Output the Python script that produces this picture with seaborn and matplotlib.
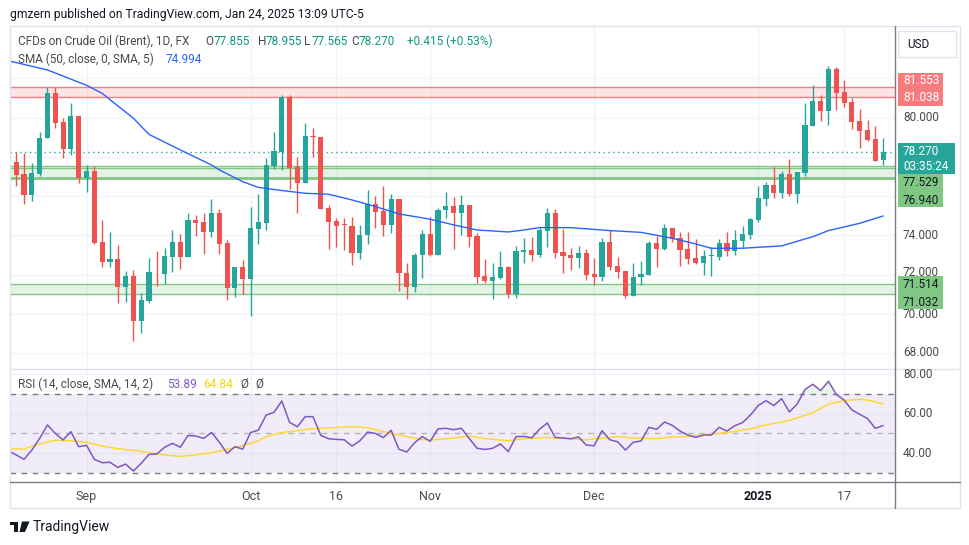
import numpy as np
import pandas as pd
import matplotlib
matplotlib.use('Agg')
import matplotlib.pyplot as plt
from matplotlib.patches import Rectangle, Polygon
import seaborn as sns

# Daily candles, Aug 19 2024 - Jan 24 2025
opens = [79.73, 77.745, 77.13, 76.06, 77.13, 78.97, 81.24, 79.78, 78.42, 80.09,
         76.95, 77.29, 73.67, 72.67, 72.81, 71.40, 71.94, 69.66, 70.68, 72.75,
         72.04, 72.92, 73.67, 72.92, 74.79, 74.69, 74.18, 75.13, 73.64, 71.33,
         72.40, 71.79, 74.33, 74.66, 77.54, 78.27, 81.04, 77.47, 76.69, 79.05,
         79.00, 75.39, 74.72, 74.54, 74.49, 73.13, 74.00, 75.61, 75.25, 74.55,
         75.84, 72.08, 71.40, 72.99, 74.08, 73.01, 75.30, 75.50, 75.17, 75.56,
         73.98, 71.94, 71.70, 71.86, 72.38, 71.01, 73.16, 73.26, 73.01, 74.23,
         75.13, 73.16, 73.01, 72.87, 73.11, 72.04, 71.91, 73.67, 72.45, 72.20,
         70.94, 71.87, 71.99, 73.62, 73.32, 74.37, 73.87, 73.31, 72.86, 72.60,
         72.95, 72.91, 73.62, 73.21, 73.72, 74.04, 74.79, 75.86, 76.57, 76.18,
         77.13, 76.12, 77.17, 79.59, 80.85, 80.36, 82.48, 81.31, 80.80, 79.83,
         79.37, 78.92, 77.855]
highs = [79.90, 78.27, 78.19, 77.68, 79.27, 81.55, 81.55, 79.97, 80.73, 80.09,
         77.57, 77.54, 74.79, 74.18, 73.52, 72.21, 72.25, 71.06, 72.84, 73.21,
         73.38, 74.28, 74.08, 75.13, 75.03, 75.13, 75.88, 75.35, 73.77, 72.42,
         72.76, 75.47, 76.11, 77.93, 79.29, 81.16, 81.16, 77.98, 79.71, 79.46,
         79.00, 75.56, 74.88, 74.88, 74.93, 74.54, 76.32, 76.01, 76.52, 76.10,
         75.84, 72.58, 73.13, 74.28, 74.93, 75.42, 76.22, 75.98, 76.06, 75.56,
         74.11, 72.79, 72.59, 73.21, 72.45, 73.47, 73.86, 73.94, 74.37, 75.39,
         75.35, 74.32, 73.35, 73.47, 73.32, 72.84, 73.86, 74.28, 72.92, 72.21,
         72.62, 72.70, 73.72, 73.98, 74.59, 74.38, 74.18, 74.18, 73.82, 73.26,
         73.40, 73.82, 74.18, 74.28, 74.50, 74.89, 76.52, 76.73, 77.51, 77.29,
         77.90, 77.25, 80.77, 81.67, 81.16, 82.63, 82.60, 81.92, 81.00, 80.44,
         79.88, 79.58, 78.955]
lows = [77.55, 76.52, 75.61, 75.76, 77.03, 78.97, 79.47, 77.97, 78.10, 76.69,
        76.23, 73.55, 72.38, 72.38, 70.58, 70.63, 68.65, 69.02, 70.58, 71.43,
        71.53, 72.16, 72.30, 72.92, 73.99, 73.06, 73.94, 73.06, 70.69, 70.89,
        71.03, 69.90, 73.57, 74.28, 77.39, 77.34, 76.39, 75.17, 76.69, 78.02,
        75.37, 73.33, 73.43, 73.26, 72.52, 72.82, 73.57, 74.40, 73.99, 74.15,
        71.19, 70.75, 71.14, 71.82, 72.96, 73.01, 74.89, 73.32, 74.03, 73.43,
        71.60, 71.57, 70.75, 71.79, 70.84, 70.84, 72.62, 72.72, 72.92, 73.43,
        72.87, 72.11, 72.25, 72.35, 71.74, 71.48, 71.70, 72.25, 71.81, 70.84,
        70.94, 71.50, 71.99, 72.42, 73.26, 73.67, 72.45, 72.55, 72.55, 71.99,
        71.94, 72.76, 72.96, 73.01, 73.35, 73.84, 74.71, 75.52, 75.93, 75.93,
        76.03, 75.67, 77.05, 79.59, 79.85, 79.63, 80.39, 80.56, 79.44, 78.48,
        78.81, 77.81, 77.565]
closes = [77.74, 77.08, 76.06, 77.17, 78.98, 81.24, 79.75, 78.42, 80.09, 76.95,
          77.29, 73.64, 72.67, 72.81, 71.40, 71.94, 69.66, 70.72, 72.15, 72.73,
          72.96, 73.67, 72.92, 74.79, 74.66, 74.18, 75.13, 73.57, 71.33, 72.40,
          71.79, 74.38, 74.69, 77.57, 78.32, 81.04, 77.46, 76.69, 79.07, 79.03,
          75.37, 74.71, 74.50, 74.52, 73.13, 74.03, 75.61, 75.22, 74.55, 75.84,
          72.08, 71.40, 72.99, 74.08, 73.01, 75.30, 75.50, 75.17, 75.56, 73.94,
          71.91, 71.70, 71.89, 72.40, 71.01, 73.21, 73.26, 73.01, 74.28, 75.13,
          73.13, 72.98, 72.86, 73.11, 71.99, 71.91, 73.67, 72.42, 72.16, 70.94,
          71.87, 72.06, 73.64, 73.32, 74.38, 73.82, 73.26, 72.81, 72.60, 72.96,
          72.96, 73.62, 73.21, 73.77, 74.08, 74.84, 75.91, 76.57, 76.18, 77.13,
          76.12, 77.24, 79.63, 80.85, 80.36, 82.48, 81.27, 80.77, 79.80, 79.34,
          78.86, 77.81, 78.27]

# RSI(14) per bar
rsi = [41.0, 39.0, 36.8, 41.5, 47.4, 54.2, 49.9, 46.6, 50.8, 43.2,
       43.9, 36.8, 35.1, 35.3, 32.7, 34.4, 30.9, 34.8, 39.3, 39.5,
       42.9, 44.9, 42.9, 48.9, 48.6, 47.4, 50.4, 45.5, 39.8, 43.2,
       42.0, 50.3, 51.6, 59.2, 60.6, 66.3, 55.5, 53.3, 58.4, 58.4,
       48.9, 47.2, 46.9, 46.7, 43.5, 46.2, 50.6, 49.9, 47.8, 51.5,
       41.9, 40.5, 45.2, 48.3, 45.9, 52.2, 52.5, 51.8, 52.5, 47.4,
       42.4, 41.8, 42.4, 44.6, 40.7, 48.3, 48.4, 47.7, 52.0, 55.2,
       47.9, 47.6, 47.2, 48.1, 44.0, 43.7, 51.3, 46.7, 45.7, 41.5,
       45.4, 46.1, 53.0, 52.0, 55.7, 54.0, 51.1, 49.1, 47.9, 49.1,
       49.1, 53.0, 51.1, 53.8, 55.4, 59.2, 64.0, 66.5, 64.0, 67.5,
       60.8, 64.8, 72.2, 74.8, 71.6, 76.3, 69.7, 66.8, 61.8, 59.6,
       57.4, 52.5, 53.89]

# SMA 50 of close, sampled along the line (bar index, value)
sma_pos = [0, 5, 10, 12, 16, 18, 22, 26, 27, 30, 32, 35, 38, 41, 44, 47, 50, 54,
           57, 60, 64, 66, 68, 72, 77, 81, 85, 88, 90, 94, 99, 103, 105, 109, 112]
sma_vals = [82.90, 82.43, 81.65, 81.24, 79.97, 79.15, 78.36, 77.59, 77.34, 76.74,
            76.45, 76.29, 76.15, 76.10, 75.81, 75.47, 75.10, 74.83, 74.54, 74.28,
            74.18, 74.28, 74.40, 74.40, 74.25, 74.16, 73.86, 73.57, 73.35, 73.35,
            73.47, 73.94, 74.25, 74.62, 74.994]

# SMA 14 of RSI, sampled along the line
rsi_ma_pos = [0, 2, 3, 5, 6, 8, 10, 12, 14, 16, 18, 20, 22, 24, 26, 28, 30, 32, 33,
              35, 37, 39, 41, 43, 44, 46, 48, 51, 53, 54, 57, 59, 61, 64, 66, 69, 71,
              74, 77, 78, 80, 83, 85, 87, 89, 92, 95, 97, 100, 103, 105, 107, 109,
              110, 112]
rsi_ma_vals = [42.2, 41.9, 43.5, 45.6, 46.4, 46.2, 45.4, 43.5, 42.2, 41.4, 40.2, 39.0,
               38.3, 39.0, 40.2, 41.9, 43.8, 46.1, 48.3, 50.3, 51.3, 52.3, 52.7, 53.2,
               53.3, 52.8, 50.8, 48.3, 46.8, 46.6, 47.5, 48.6, 47.3, 46.2, 47.3, 47.8,
               47.4, 46.7, 47.8, 48.3, 47.6, 47.3, 48.1, 48.4, 49.3, 50.3, 52.2, 54.2,
               56.5, 60.4, 64.8, 66.5, 67.2, 66.8, 64.84]

zone_red = (81.038, 81.553)
zone_green_hi = (76.940, 77.529)
zone_green_lo = (71.032, 71.514)
last_price = 78.270

tick_dates = ['2024-09-02', '2024-10-01', '2024-10-16', '2024-11-01',
              '2024-12-02', '2025-01-02', '2025-01-17']
tick_labels = ['Sep', 'Oct', '16', 'Nov', 'Dec', '2025', '17']

dates = pd.bdate_range('2024-08-19', '2025-01-24').drop(
    pd.to_datetime(['2024-12-25', '2025-01-01']))
df = pd.DataFrame({'date': dates, 'open': opens, 'high': highs,
                   'low': lows, 'close': closes, 'rsi': rsi})
df['pos'] = np.arange(len(df))
tick_pos = [df.index[df['date'] == pd.Timestamp(d)][0] for d in tick_dates]

UP, DOWN = '#26a69a', '#ef5350'
GRID = '#f0f3fa'
TXT = '#4a4a4a'

sns.set_theme(style='white')
plt.rcParams['font.family'] = ['Roboto', 'DejaVu Sans']

W, H = 970, 545
fig = plt.figure(figsize=(W / 100, H / 100), dpi=100)


def fx(x):
    return x / W


def fy(y):
    return 1 - y / H


ax = fig.add_axes([fx(10), fy(369), fx(895) - fx(10), fy(26) - fy(369)])
ax2 = fig.add_axes([fx(10), fy(482), fx(895) - fx(10), fy(369) - fy(482)], sharex=ax)

# --- price pane ---
for lvl in range(68, 84, 2):
    ax.axhline(lvl, color=GRID, lw=1, zorder=0)
for p in tick_pos:
    ax.axvline(p, color=GRID, lw=1, zorder=0)
    ax2.axvline(p, color=GRID, lw=1, zorder=0)

ax.axhspan(*zone_red, color='#f77c80', alpha=0.2, lw=0, zorder=1)
for v in zone_red:
    ax.axhline(v, color='#f77c80', lw=1.0, zorder=1)
ax.axhspan(*zone_green_hi, color='#81c784', alpha=0.2, lw=0, zorder=1)
ax.axhline(zone_green_hi[1], color='#81c784', lw=1.0, zorder=1)
ax.axhline(77.42, color='#81c784', lw=1.0, zorder=1)
ax.axhline(zone_green_hi[0], color='#81c784', lw=2.0, zorder=1)
ax.axhspan(*zone_green_lo, color='#81c784', alpha=0.2, lw=0, zorder=1)
for v in zone_green_lo:
    ax.axhline(v, color='#81c784', lw=1.0, zorder=1)

ax.axhline(last_price, color=UP, lw=1, ls=(0, (1, 2.5)), zorder=1.5)

colors = np.where(df['close'] >= df['open'], UP, DOWN)
ax.vlines(df['pos'], df['low'], df['high'], colors=colors, lw=1, zorder=2)
body = np.maximum((df['close'] - df['open']).abs(), 0.04)
ax.bar(df['pos'], body, bottom=np.minimum(df['open'], df['close']),
       width=0.66, color=colors, lw=0, zorder=3)

sns.lineplot(x=sma_pos, y=sma_vals, ax=ax, color='#2962ff', lw=1, zorder=4)

ax.set_xlim(0.20, 113.52)
ax.set_ylim(67.20, 84.67)

# --- RSI pane ---
for lvl in (40, 60, 80):
    ax2.axhline(lvl, color=GRID, lw=1, zorder=0)
ax2.axhspan(30, 70, color='#7e57c2', alpha=0.1, lw=0, zorder=0.5)
ax2.axhline(70, color='#787b86', lw=1, ls=(0, (4, 4)), zorder=1)
ax2.axhline(30, color='#787b86', lw=1, ls=(0, (4, 4)), zorder=1)
ax2.axhline(50, color='#787b86', lw=1, ls=(0, (4, 4)), alpha=0.5, zorder=1)
r = df['rsi'].to_numpy()
ax2.fill_between(df['pos'], r, 70, where=r > 70, interpolate=True,
                 color='#4caf50', alpha=0.12, lw=0)
sns.lineplot(x=rsi_ma_pos, y=rsi_ma_vals, ax=ax2, color='#fdd835', lw=1.1, zorder=3)
sns.lineplot(data=df, x='pos', y='rsi', ax=ax2, color='#7e57c2', lw=1.1, zorder=4)
ax2.set_ylim(25.32, 82.53)
ax2.set_xlim(0.20, 113.52)

for a in (ax, ax2):
    a.set_xticks([])
    a.set_yticks([])
    a.set_xlabel('')
    a.set_ylabel('')
    for s in a.spines.values():
        s.set_visible(False)

# time axis labels
for p, lab in zip(tick_pos, tick_labels):
    bold = lab == '2025'
    ax2.text(p, -0.124, lab, transform=ax2.get_xaxis_transform(), ha='center',
             va='center', fontsize=9, color='#131722' if bold else TXT,
             fontweight='bold' if bold else 'normal')


# frame lines
def hline(y, x0, x1, c, lw=1):
    fig.add_artist(plt.Line2D([fx(x0), fx(x1)], [fy(y), fy(y)], color=c, lw=lw))


def vline(x, y0, y1, c, lw=1):
    fig.add_artist(plt.Line2D([fx(x), fx(x)], [fy(y0), fy(y1)], color=c, lw=lw))


hline(26, 10, 960, '#e0e3eb')
hline(508, 10, 960, '#e0e3eb')
vline(10, 26, 508, '#e0e3eb')
vline(960, 26, 508, '#e0e3eb')
hline(369, 10, 960, '#e0e3eb')
hline(482, 10, 960, '#787b86')
vline(895, 26, 508, '#787b86')

# price axis labels (drawn below the price tags, like the reference)
for lab, y in [('80.000', 117.7), ('74.000', 235), ('72.000', 272.5),
               ('70.000', 315), ('68.000', 353),
               ('80.00', 374), ('60.00', 413.3), ('40.00', 453.3)]:
    fig.text(fx(903), fy(y), lab, fontsize=8.5, color=TXT, va='center', ha='left',
             zorder=2)

# USD box
fig.add_artist(Rectangle((fx(898), fy(57)), fx(956) - fx(898), fy(31) - fy(57),
                         facecolor='white', edgecolor='#e0e3eb', lw=1))
fig.text(fx(907), fy(44), 'USD', fontsize=8.5, color='#131722', va='center')


def tag(x0, x1, y0, y1, c, lines, tc):
    fig.add_artist(Rectangle((fx(x0), fy(y1)), fx(x1) - fx(x0), fy(y0) - fy(y1),
                             facecolor=c, edgecolor='none', zorder=5))
    for s, y in lines:
        fig.text(fx(903), fy(y), s, fontsize=8.5, color=tc, va='center', ha='left',
                 zorder=6)


tag(897.7, 943.3, 72.7, 106, '#f77c80', [('81.553', 80.7), ('81.038', 97.3)], 'white')
tag(897.7, 955, 142.7, 174, UP, [('78.270', 151.7), ('03:35:24', 166)], 'white')
tag(897.7, 943.3, 174, 207.3, '#81c784', [('77.529', 182.7), ('76.940', 200)], '#131722')
tag(897.7, 943.3, 276, 309.3, '#81c784', [('71.514', 285), ('71.032', 302.2)], '#131722')

# header and legends
fig.text(fx(10), fy(14.7), 'gmzern published on TradingView.com, Jan 24, 2025 13:09 UTC-5',
         fontsize=8.7, color='#131722', va='center')
fig.text(fx(18.3), fy(41.7), 'CFDs on Crude Oil (Brent), 1D, FX', fontsize=8.5,
         color=TXT, va='center')
VAL = '#089981'
for x, letter, val in [(205.7, 'O', '77.855'), (257.7, 'H', '78.955'),
                       (304, 'L', '77.565'), (351, 'C', '78.270')]:
    fig.text(fx(x), fy(41.7), letter, fontsize=8.5, color=TXT, va='center')
    fig.text(fx(x + 7.5), fy(41.7), val, fontsize=8.5, color=VAL, va='center')
fig.text(fx(407.3), fy(41.7), '+0.415 (+0.53%)', fontsize=8.5, color=VAL, va='center')
fig.text(fx(18.3), fy(59.3), 'SMA (50, close, 0, SMA, 5)', fontsize=8.5, color=TXT, va='center')
fig.text(fx(165.7), fy(59.3), '74.994', fontsize=8.5, color='#2962ff', va='center')

fig.text(fx(18.3), fy(384), 'RSI (14, close, SMA, 14, 2)', fontsize=8.5, color=TXT, va='center')
fig.text(fx(166.7), fy(384), '53.89', fontsize=8.5, color='#7e57c2', va='center')
fig.text(fx(203), fy(384), '64.84', fontsize=8.5, color='#f5d400', va='center')
fig.text(fx(240), fy(384), 'Ø', fontsize=8.5, color=TXT, va='center')
fig.text(fx(255), fy(384), 'Ø', fontsize=8.5, color=TXT, va='center')

# TradingView logo
fig.add_artist(Rectangle((fx(10), fy(525)), fx(18) - fx(10), fy(521.5) - fy(525),
                         facecolor='#131722', edgecolor='none'))
fig.add_artist(Rectangle((fx(14), fy(532)), fx(18) - fx(14), fy(521.5) - fy(532),
                         facecolor='#131722', edgecolor='none'))
fig.add_artist(Polygon([(fx(22), fy(521.5)), (fx(29.5), fy(521.5)),
                        (fx(25), fy(532)), (fx(19.5), fy(532))],
                       closed=True, facecolor='#131722', edgecolor='none'))
fig.text(fx(33), fy(527), 'TradingView', fontsize=10, color='#131722', va='center')

fig.savefig('out.png', dpi=100, facecolor='white')
